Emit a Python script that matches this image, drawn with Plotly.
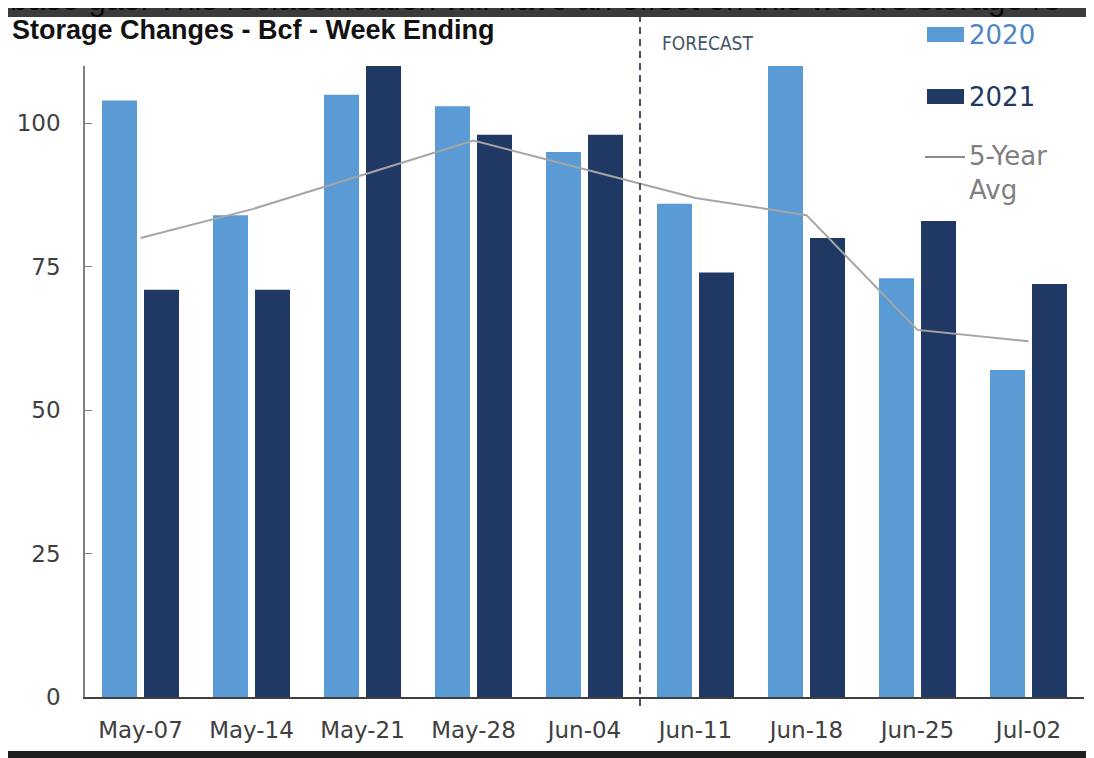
import plotly.graph_objects as go

# ---- data ----
weeks = ["May-07", "May-14", "May-21", "May-28", "Jun-04", "Jun-11", "Jun-18", "Jun-25", "Jul-02"]
y2020 = [104, 84, 105, 103, 95, 86, 120, 73, 57]
y2021 = [71, 71, 115, 98, 98, 74, 80, 83, 72]
avg5 = [80, 85, 91, 97, 92, 87, 84, 64, 62]
yticks = [0, 25, 50, 75, 100]
series_names = ["2020", "2021", "5-Year<br>Avg"]

C2020 = "#5b9bd5"
C2021 = "#203864"
CAVG = "#a5a5a5"

W, H = 1094, 758
OFF = 8  # page offset of the figure in the browser
# plot area in page pixels
Lp, Rp, Tp, Bp = 85, 1084, 66, 697
L, R, T, B = Lp - OFF, Rp - OFF, Tp - OFF, Bp - OFF


def px(x):
    return (x - Lp) / (Rp - Lp)


def py(y):
    return (Bp - y) / (Bp - Tp)


fig = go.Figure()
fig.add_trace(go.Bar(x=weeks, y=y2020, name="2020", marker=dict(color=C2020, line=dict(width=0))))
fig.add_trace(go.Bar(x=weeks, y=y2021, name="2021", marker=dict(color=C2021, line=dict(width=0))))
fig.add_trace(go.Scatter(x=weeks, y=avg5, name="5-Year Avg", mode="lines",
                         line=dict(color=CAVG, width=2)))

shapes = [
    # dark surround reaching into the page margin
    dict(type="rect", xref="paper", yref="paper", x0=px(0), x1=px(OFF), y0=py(760), y1=py(0),
         fillcolor="#1f1f1f", line=dict(width=0), layer="below"),
    # white chart card
    dict(type="rect", xref="paper", yref="paper", x0=px(4), x1=px(1088), y0=py(751), y1=py(17),
         fillcolor="white", line=dict(width=0), layer="below"),
    # top strip
    dict(type="rect", xref="paper", yref="paper", x0=px(0), x1=px(1094 + OFF), y0=py(17), y1=py(0),
         fillcolor="#3b3b3b", line=dict(width=0), layer="below"),
    # forecast divider
    dict(type="line", xref="x", yref="paper", x0=4.5, x1=4.5, y0=py(706), y1=py(17),
         line=dict(color="#44546a", width=2, dash="7px,5px")),
    # legend swatches
    dict(type="rect", xref="paper", yref="paper", x0=px(927), x1=px(964), y0=py(42), y1=py(27),
         fillcolor=C2020, line=dict(width=0)),
    dict(type="rect", xref="paper", yref="paper", x0=px(927), x1=px(964), y0=py(104), y1=py(89),
         fillcolor=C2021, line=dict(width=0)),
    dict(type="line", xref="paper", yref="paper", x0=px(925), x1=px(965), y0=py(157), y1=py(157),
         line=dict(color="#8c8c8c", width=2)),
]

ann = [
    dict(text="base gas. This reclassification will have an effect on this week's storage re",
         xref="paper", yref="paper", x=px(8), y=py(19), xanchor="left", yanchor="bottom",
         showarrow=False, font=dict(family="Liberation Sans, Arial, sans-serif", size=32, color="#0a0a0a")),
    dict(text="<b>Storage Changes - Bcf - Week Ending</b>", xref="paper", yref="paper",
         x=px(10), y=py(30), xanchor="left", yanchor="middle", showarrow=False,
         font=dict(family="Liberation Sans, Arial, sans-serif", size=27, color="#111111")),
    dict(text="FORECAST", xref="paper", yref="paper", x=px(660), y=py(43), xanchor="left",
         yanchor="middle", showarrow=False,
         font=dict(family="DejaVu Sans Condensed, Liberation Sans Narrow, sans-serif", size=19,
                   color="#44546a")),
    dict(text=series_names[0], xref="paper", yref="paper", x=px(967), y=py(35), xanchor="left",
         yanchor="middle", showarrow=False,
         font=dict(family="DejaVu Sans, sans-serif", size=26, color="#4f86c6")),
    dict(text=series_names[1], xref="paper", yref="paper", x=px(967), y=py(97), xanchor="left",
         yanchor="middle", showarrow=False,
         font=dict(family="DejaVu Sans, sans-serif", size=26, color=C2021)),
    dict(text=series_names[2], xref="paper", yref="paper", x=px(967), y=py(173), xanchor="left",
         yanchor="middle", align="left", showarrow=False,
         font=dict(family="DejaVu Sans, sans-serif", size=26, color="#7f7f7f")),
]

fig.update_layout(
    width=W, height=H,
    margin=dict(l=L, r=W - R, t=T, b=H - B, pad=0, autoexpand=False),
    paper_bgcolor="#1f1f1f",
    plot_bgcolor="rgba(0,0,0,0)",
    barmode="group", bargap=0.243, bargroupgap=0.167,
    showlegend=False,
    shapes=shapes, annotations=ann,
    font=dict(family="DejaVu Sans, sans-serif", size=23, color="#404040"),
)
fig.update_xaxes(type="category", range=[-0.5, 8.5], showgrid=False, showline=True,
                 linecolor="#404040", linewidth=2, ticks="", ticklabelstandoff=11,
                 automargin=False, tickfont=dict(size=23, color="#404040"))
fig.update_yaxes(range=[0, 110], tickvals=yticks, showgrid=False, showline=True,
                 linecolor="#808080", linewidth=1.5, ticks="inside", ticklen=7,
                 tickcolor="#808080", zeroline=False, ticklabelstandoff=18,
                 automargin=False, tickfont=dict(size=23, color="#404040"))

fig.write_html("out.html")
